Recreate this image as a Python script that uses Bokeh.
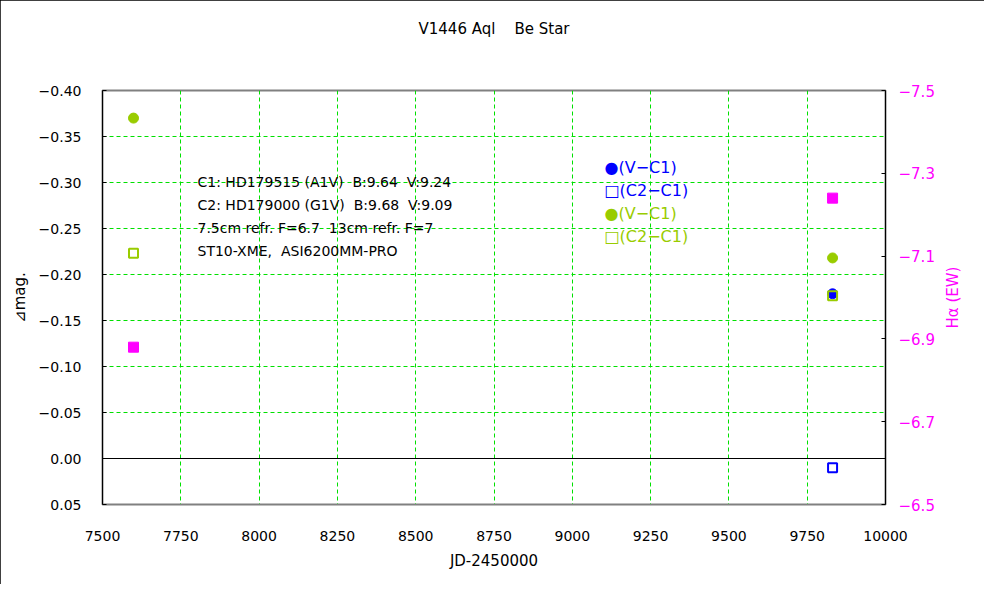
import math
from bokeh.plotting import figure
from bokeh.models import (Range1d, LinearAxis, FixedTicker, CustomJSTickFormatter,
                          Span, Label, Title)
from bokeh.embed import file_html
from bokeh.resources import INLINE

NB = "\u00a0"

# ---------------- data ----------------
title_text = "V1446 Aql" + NB * 4 + "Be Star"
x_ticks = [7500, 7750, 8000, 8250, 8500, 8750, 9000, 9250, 9500, 9750, 10000]
y_ticks = [-0.40, -0.35, -0.30, -0.25, -0.20, -0.15, -0.10, -0.05, 0.00, 0.05]
ha_ticks = [-7.5, -7.3, -7.1, -6.9, -6.7, -6.5]

# blue series
jd_blue = [9831]
v_c1_blue = [-0.179]
c2_c1_blue = [0.010]
# green series
jd_green = [7599, 9831]
v_c1_green = [-0.370, -0.218]
c2_c1_green = [-0.223, -0.177]
# H-alpha equivalent width
jd_ha = [7599, 9831]
ha_ew = [-6.88, -7.24]

legend_labels = ["\u25cf(V\u2212C1)", "\u25a1(C2\u2212C1)", "\u25cf(V\u2212C1)", "\u25a1(C2\u2212C1)"]
note_lines = [
    "C1: HD179515 (A1V)" + NB * 2 + "B:9.64" + NB * 2 + "V:9.24",
    "C2: HD179000 (G1V)" + NB * 2 + "B:9.68" + NB * 2 + "V:9.09",
    "7.5cm refr. F=6.7" + NB * 2 + "13cm refr. F=7",
    "ST10-XME," + NB * 2 + "ASI6200MM-PRO",
]

BLUE = "#0000ff"
GREEN = "#99cc00"
MAGENTA = "#ff00ff"
GRID = "#00e000"
BLACK = "#000000"
FONT = "DejaVu Sans"

p = figure(width=984, height=584,
           x_range=Range1d(7500, 10000), y_range=Range1d(0.05, -0.40),
           output_backend="svg", toolbar_location=None,
           min_border_left=102, min_border_right=99,
           min_border_top=90, min_border_bottom=80)
p.styles = {"outline": "1px solid #000000", "outline-offset": "-1px"}

p.outline_line_color = "#808080"
p.outline_line_width = 2

# title, pushed away from the frame by a spacer title
spacer = Title(text=NB, text_font_size="1px", standoff=50)
main_title = Title(text=title_text, align="center", text_font=FONT, text_font_size="15px",
                   text_font_style="normal", text_color=BLACK, standoff=0)
p.add_layout(spacer, "above")
p.add_layout(main_title, "above")

def fmt(d):
    return CustomJSTickFormatter(code="""
        const v = Math.abs(tick) < 1e-9 ? 0 : tick;
        const s = Math.abs(v).toFixed(%d);
        return v < 0 ? "\u2212" + s : s;
    """ % d)

# x axis
xa = p.xaxis[0]
xa.ticker = FixedTicker(ticks=x_ticks)
xa.formatter = fmt(0)
xa.axis_label = "JD-2450000"
xa.axis_label_text_font = FONT
xa.axis_label_text_font_size = "15px"
xa.axis_label_text_font_style = "normal"
xa.axis_label_text_color = BLACK
xa.axis_label_standoff = 8
xa.major_label_text_font = FONT
xa.major_label_text_font_size = "14px"
xa.major_label_text_color = BLACK
xa.major_label_standoff = 26
xa.major_tick_in = 0
xa.major_tick_out = 0
xa.minor_tick_in = 0
xa.minor_tick_out = 0
xa.axis_line_color = "#808080"

# left axis
ya = p.yaxis[0]
ya.ticker = FixedTicker(ticks=y_ticks)
ya.formatter = fmt(2)
ya.axis_label = "\u22bfmag."
ya.axis_label_text_font = FONT
ya.axis_label_text_font_size = "15px"
ya.axis_label_text_font_style = "normal"
ya.axis_label_text_color = BLACK
ya.axis_label_standoff = 7
ya.major_label_text_font = FONT
ya.major_label_text_font_size = "14px"
ya.major_label_text_color = BLACK
ya.major_label_standoff = 21
ya.major_tick_in = 4
ya.major_tick_out = 0
ya.minor_tick_in = 0
ya.minor_tick_out = 0
ya.axis_line_color = BLACK

# right axis (label drawn separately in the right panel)
p.extra_y_ranges = {"ha": Range1d(-6.5, -7.5)}
ra = LinearAxis(y_range_name="ha", ticker=FixedTicker(ticks=ha_ticks), formatter=fmt(1),
                major_label_text_color=MAGENTA, major_label_text_font=FONT,
                major_label_text_font_size="15px", major_label_standoff=13,
                major_tick_in=4, major_tick_out=0, minor_tick_in=0, minor_tick_out=0,
                axis_line_color=BLACK)
p.add_layout(ra, "right")
p.add_layout(Label(x=15, y=207, x_units="screen", y_units="screen", text="H\u03b1 (EW)",
                   angle=90, angle_units="deg", text_align="center", text_baseline="middle",
                   text_color=MAGENTA, text_font=FONT, text_font_size="15px"), "right")

# grid
for g in (p.xgrid[0], p.ygrid[0]):
    g.grid_line_color = GRID
    g.grid_line_dash = "4 3"
    g.grid_line_width = 1

p.add_layout(Span(location=0, dimension="width", line_color=BLACK, line_width=1))

# data
p.scatter(jd_blue, v_c1_blue, marker="circle", size=10, fill_color=BLUE, line_color=BLUE)
p.scatter(jd_blue, c2_c1_blue, marker="square", size=9, fill_color=None, line_color=BLUE, line_width=2)
p.scatter(jd_green, v_c1_green, marker="circle", size=10, fill_color=GREEN, line_color=GREEN)
p.scatter(jd_green, c2_c1_green, marker="square", size=9, fill_color=None, line_color=GREEN, line_width=2)
p.scatter(jd_ha, ha_ew, marker="square", size=10, fill_color=MAGENTA, line_color=MAGENTA,
          y_range_name="ha")

# legend (text)
leg_colors = [BLUE, BLUE, GREEN, GREEN]
leg_y = [337, 314, 291, 268]
for t, c, yy in zip(legend_labels, leg_colors, leg_y):
    p.add_layout(Label(x=502, y=yy, x_units="screen", y_units="screen", text=t,
                       text_color=c, text_font=FONT, text_font_size="16px",
                       text_baseline="middle"))

# notes
note_y = [323, 300, 277, 254]
for t, yy in zip(note_lines, note_y):
    p.add_layout(Label(x=95, y=yy, x_units="screen", y_units="screen", text=t,
                       text_color=BLACK, text_font=FONT, text_font_size="14px",
                       text_baseline="middle"))

open("out.html", "w").write(file_html(p, INLINE))
